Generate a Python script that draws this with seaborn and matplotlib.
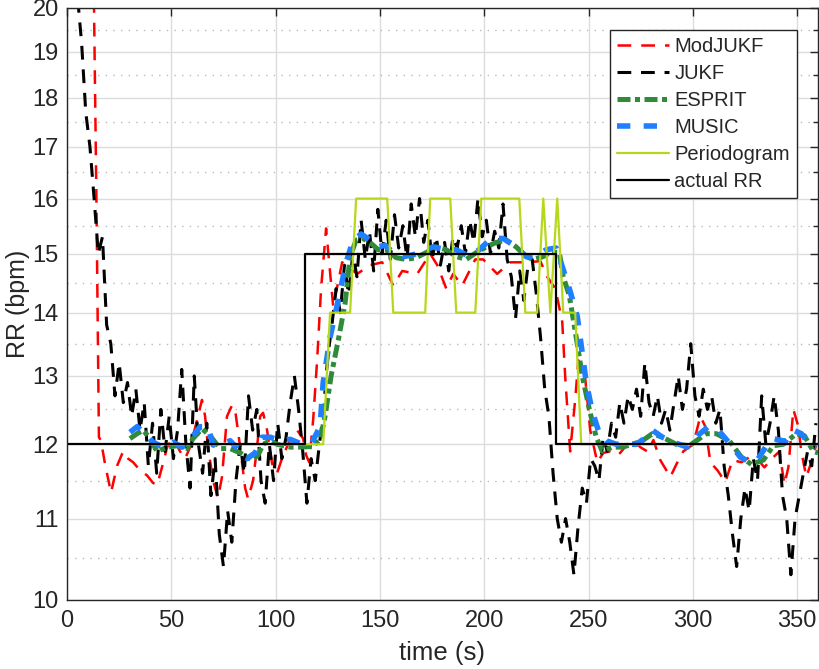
import matplotlib

matplotlib.use("Agg")

import matplotlib.pyplot as plt
import matplotlib.ticker as mticker
import numpy as np
import seaborn as sns

# ModJUKF estimate (red dashed)
mod_t = [12.6, 12.9, 14.1, 15.3, 16.3, 18.2, 21.1, 24.0, 26.9, 29.3, 31.7, 35.0, 38.4, 41.2, 43.2,
         46.0, 48.0, 50.8, 54.2, 56.6, 59.0, 62.4, 64.7, 66.2, 67.6, 70.0, 72.4, 74.3, 76.7, 79.1,
         80.6, 83.0, 85.4, 86.8, 89.2, 91.1, 92.6, 94.0, 95.9, 98.3, 100.7, 103.6, 107.0, 110.3,
         113.2, 114.6, 116.1, 118.0, 119.9, 121.8, 124.2, 127.6, 131.9, 139.1, 145.3, 151.1, 156.4,
         160.7, 167.9, 174.1, 177.5, 181.8, 185.1, 189.4, 195.7, 199.5, 206.2, 212.5, 220.6, 226.9,
         230.2, 234.1, 237.4, 238.8, 241.2, 243.6, 245.1, 248.0, 250.8, 254.2, 257.1, 260.4, 264.3,
         268.6, 271.5, 274.8, 278.2, 281.1, 284.4, 289.2, 292.6, 295.4, 300.2, 303.6, 306.0, 308.4,
         311.8, 315.6, 319.0, 323.3, 327.1, 331.4, 334.3, 338.6, 341.5, 343.9, 345.8, 348.2, 350.6,
         352.0, 354.4, 356.8, 359.2]
mod_rr = [23.0, 20.2, 16.0, 12.1, 12.05, 11.73, 11.34, 11.7, 11.9, 11.8, 11.75, 11.64, 11.57, 11.47,
          11.44, 11.73, 11.96, 12.1, 11.9, 11.8, 11.96, 12.35, 12.64, 12.4, 11.96, 11.5, 11.27, 11.55,
          12.4, 12.56, 12.49, 11.96, 11.4, 11.26, 11.5, 11.96, 12.4, 12.45, 12.2, 11.73, 11.6, 11.85,
          12.06, 12.2, 12.08, 11.85, 11.75, 12.35, 13.24, 14.4, 15.45, 14.1, 14.85, 14.65, 14.8, 14.85,
          14.45, 14.7, 14.65, 15.0, 14.8, 14.4, 14.65, 14.45, 14.9, 14.9, 14.65, 14.85, 14.85, 14.87,
          14.6, 14.4, 13.85, 13.0, 11.9, 12.64, 13.24, 13.1, 12.2, 11.75, 11.88, 11.9, 11.85, 12.0,
          12.06, 11.96, 11.9, 12.06, 11.78, 11.55, 11.75, 11.9, 12.0, 12.4, 12.25, 11.75, 11.64,
          11.48, 11.78, 11.75, 11.82, 11.78, 11.68, 11.82, 11.9, 11.45, 11.68, 12.5, 12.25, 11.9,
          11.55, 11.75, 12.0]

# JUKF estimate (black dashed), sampled every 2 s from t = 5 s
jukf_t = np.arange(5, 361, 2)
jukf_rr = [20.3, 19.2, 17.7, 17.0, 16.0, 15.0, 15.3, 13.8, 13.5, 12.7,
           13.2, 12.6, 12.9, 12.4, 12.8, 12.2, 12.6, 11.7, 12.3, 11.6,
           12.5, 11.9, 12.4, 11.8, 12.2, 13.1, 12.0, 11.4, 13.0, 12.0,
           11.6, 12.3, 11.3, 11.8, 10.8, 10.4, 11.1, 10.7, 11.5, 12.0,
           11.6, 12.7, 12.2, 12.5, 11.5, 11.2, 12.0, 11.5, 12.3, 11.8,
           12.1, 12.6, 13.0, 12.5, 11.9, 11.2, 11.8, 11.5, 12.0, 12.5,
           13.3, 13.8, 14.4, 14.0, 14.8, 14.3, 15.0, 14.6, 15.6, 14.9,
           15.4, 14.7, 15.8, 15.0, 15.6, 14.9, 15.7, 15.1, 15.5, 14.9,
           15.9, 15.3, 16.0, 15.2, 15.6, 14.9, 15.3, 14.8, 15.2, 14.7,
           15.3, 15.1, 15.5, 15.0, 15.6, 15.2, 16.0, 15.3, 15.6, 15.0,
           15.4, 15.1, 15.9, 14.9, 14.6, 13.9, 14.7, 14.2, 14.8, 14.9,
           14.3, 13.6, 12.8, 12.4, 11.6, 11.0, 10.7, 11.0, 10.7, 10.3,
           10.9, 11.4, 11.2, 11.8, 11.7, 11.5, 12.1, 11.9, 12.3, 12.1,
           12.6, 12.3, 12.7, 12.5, 12.8, 12.4, 13.2, 12.6, 12.4, 12.7,
           12.3, 12.5, 12.2, 12.6, 13.0, 12.5, 12.8, 13.5, 12.7, 12.4,
           12.8, 12.5, 12.7, 12.3, 12.5, 11.7, 11.3, 10.8, 10.4, 11.0,
           11.4, 11.1, 11.8, 11.5, 12.7, 12.0, 12.3, 12.7, 12.2, 11.3,
           11.0, 10.3, 11.0, 11.3, 11.6, 11.9, 11.7, 12.3]

# ESPRIT estimate (green dash-dot)
esprit_t = [30.2, 33.6, 36.5, 39.8, 43.2, 48.0, 52.8, 57.6, 60.4, 64.7, 68.6, 73.4, 78.2, 83.0,
            88.7, 91.6, 94.0, 97.4, 100.7, 107.0, 111.8, 117.5, 121.3, 123.7, 126.6, 130.0, 133.3,
            135.7, 138.6, 142.0, 145.8, 149.2, 153.0, 157.8, 162.6, 167.4, 172.2, 177.0, 181.8,
            186.6, 191.4, 196.2, 201.0, 205.8, 210.6, 215.3, 220.1, 223.5, 228.3, 232.1, 236.0,
            237.9, 240.8, 244.1, 247.0, 250.4, 253.7, 256.6, 261.4, 266.2, 271.0, 275.8, 280.6,
            285.4, 292.1, 298.3, 306.5, 311.3, 317.5, 323.3, 328.1, 333.8, 338.6, 343.4, 349.6,
            353.5, 357.8, 360.0]
esprit_rr = [12.08, 12.15, 12.2, 12.08, 11.9, 11.96, 11.98, 11.94, 12.08, 12.22, 12.12, 11.94, 11.94,
             11.88, 11.78, 11.85, 12.0, 12.05, 12.0, 11.96, 11.96, 11.97, 12.06, 12.4, 13.0, 13.55,
             14.15, 14.95, 15.24, 15.27, 15.18, 15.07, 15.07, 14.93, 14.9, 14.93, 15.02, 15.12, 15.07,
             14.95, 14.9, 15.02, 15.12, 15.2, 15.24, 15.12, 14.95, 14.9, 14.95, 15.03, 15.02, 14.6,
             14.28, 13.6, 13.0, 12.5, 12.1, 11.9, 11.96, 11.96, 12.0, 12.05, 12.15, 12.1, 12.0, 11.98,
             12.15, 12.15, 12.05, 11.82, 11.72, 11.78, 11.98, 12.0, 12.15, 12.12, 11.9, 11.88]

# MUSIC estimate (blue dashed)
music_t = [30.2, 33.6, 37.4, 41.2, 46.0, 50.8, 55.2, 60.0, 63.8, 67.6, 70.0, 74.3, 78.2, 83.0, 86.3,
           90.2, 93.5, 97.4, 102.2, 107.0, 112.7, 117.5, 121.3, 122.8, 126.1, 130.0, 133.8, 137.2,
           141.0, 145.3, 149.2, 152.5, 156.4, 161.2, 165.9, 172.2, 175.5, 181.8, 186.6, 192.8, 197.6,
           203.4, 209.1, 215.3, 220.1, 224.9, 229.7, 234.5, 237.9, 241.2, 244.6, 248.9, 251.8, 255.2,
           258.5, 263.3, 268.1, 272.9, 277.7, 280.6, 285.4, 290.6, 297.4, 302.2, 307.4, 312.2, 318.0,
           322.8, 327.6, 330.9, 335.7, 338.6, 344.4, 348.2, 352.0, 355.9, 359.2]
music_rr = [12.17, 12.25, 12.15, 12.03, 11.96, 12.03, 11.96, 12.1, 12.25, 12.25, 11.99, 12.0, 12.05,
            11.9, 11.8, 11.88, 12.1, 12.1, 12.05, 12.07, 12.0, 12.03, 12.25, 12.9, 13.6, 14.2, 14.85,
            15.24, 15.35, 15.24, 15.12, 15.15, 15.02, 14.95, 14.98, 15.07, 15.12, 15.07, 15.07, 14.95,
            15.07, 15.27, 15.27, 15.12, 14.95, 14.95, 15.07, 15.1, 14.72, 14.35, 13.94, 12.9, 12.47,
            12.15, 12.05, 12.0, 12.0, 12.0, 12.1, 12.2, 12.1, 12.03, 11.96, 12.12, 12.25, 12.2, 12.0,
            11.82, 11.75, 11.78, 12.0, 12.08, 12.04, 12.2, 12.15, 12.0, 11.96]

# Periodogram estimate (yellow-green, quantised to 2 bpm)
period_t = [30.0, 122.8, 126.1, 135.7, 138.6, 153.5, 156.4, 171.7, 174.1, 183.7, 186.6, 195.7,
            198.6, 216.8, 219.7, 225.4, 228.3, 231.7, 235.0, 237.9, 243.6, 246.5, 360.0]
period_rr = [12, 12, 14, 14, 16, 16, 14, 14, 16, 16, 14, 14, 16, 16, 14, 14, 16, 14, 16, 14, 14, 12, 12]

# ground truth
actual_t = [0, 114, 114, 234.5, 234.5, 360]
actual_rr = [12, 12, 15, 15, 12, 12]

y_ticks = list(range(10, 21))
y_minor = [v + 0.5 for v in range(10, 20)]
x_ticks = [0, 50, 100, 150, 200, 250, 300, 350]

sns.set_style("white")
plt.rcParams["font.family"] = ["Liberation Sans", "DejaVu Sans"]

fig = plt.figure(figsize=(8.2, 6.69), dpi=100)
ax = fig.add_axes([67 / 820, 1 - 600 / 669, 751 / 820, 592 / 669])
ax.set_yscale("log")

series = [
    (mod_t, mod_rr, "ModJUKF", "#ff0000", 1.8, (0, (5.5, 4))),
    (jukf_t, jukf_rr, "JUKF", "#000000", 2.2, (0, (4.5, 3.2))),
    (esprit_t, esprit_rr, "ESPRIT", "#2f8a3a", 3.6, (0, (2.6, 0.9, 1.0, 0.9))),
    (music_t, music_rr, "MUSIC", "#1f7fff", 4.0, (0, (2.4, 2.4))),
    (period_t, period_rr, "Periodogram", "#b5d81a", 1.6, "-"),
    (actual_t, actual_rr, "actual RR", "#000000", 1.6, "-"),
]
for xs, ys, name, color, lw, ls in series:
    sns.lineplot(x=xs, y=ys, color=color, linewidth=lw, linestyle=ls, label=name,
                 sort=False, estimator=None, ax=ax)

ax.set_xlim(0, 360)
ax.set_ylim(10, 20)
ax.yaxis.set_major_locator(mticker.FixedLocator(y_ticks))
ax.yaxis.set_minor_locator(mticker.FixedLocator(y_minor))
ax.yaxis.set_major_formatter(mticker.FixedFormatter([str(v) for v in y_ticks]))
ax.yaxis.set_minor_formatter(mticker.NullFormatter())
ax.set_xticks(x_ticks)

ax.grid(True, which="major", color="#dcdcdc", linewidth=1.0)
ax.grid(True, which="minor", axis="y", color="#b9b9b9", linestyle=(0, (1, 4.5)), linewidth=1.0)
ax.set_axisbelow(True)

for side in ax.spines.values():
    side.set_color("#262626")
    side.set_linewidth(1.0)
ax.tick_params(which="both", direction="in", top=True, right=True, colors="#262626",
               labelsize=17, width=1.0)
ax.tick_params(which="major", length=6)
ax.tick_params(which="minor", length=3.5)
ax.tick_params(axis="x", pad=7)
ax.tick_params(axis="y", pad=6)

ax.set_xlabel("time (s)", fontsize=18.5, color="#262626", labelpad=7)
ax.set_ylabel("RR (bpm)", fontsize=18, color="#262626", labelpad=2)

handles, labels = ax.get_legend_handles_labels()
leg = ax.legend(handles, labels, loc="upper right", bbox_to_anchor=(730 / 751, 570 / 592),
                borderaxespad=0, fontsize=14.5, frameon=True, fancybox=False, framealpha=1,
                edgecolor="#262626", handlelength=2.6, handletextpad=0.25, labelspacing=0.4,
                borderpad=0.35)
leg.get_frame().set_linewidth(1.0)

fig.savefig("out.png", dpi=100)
plt.close(fig)
